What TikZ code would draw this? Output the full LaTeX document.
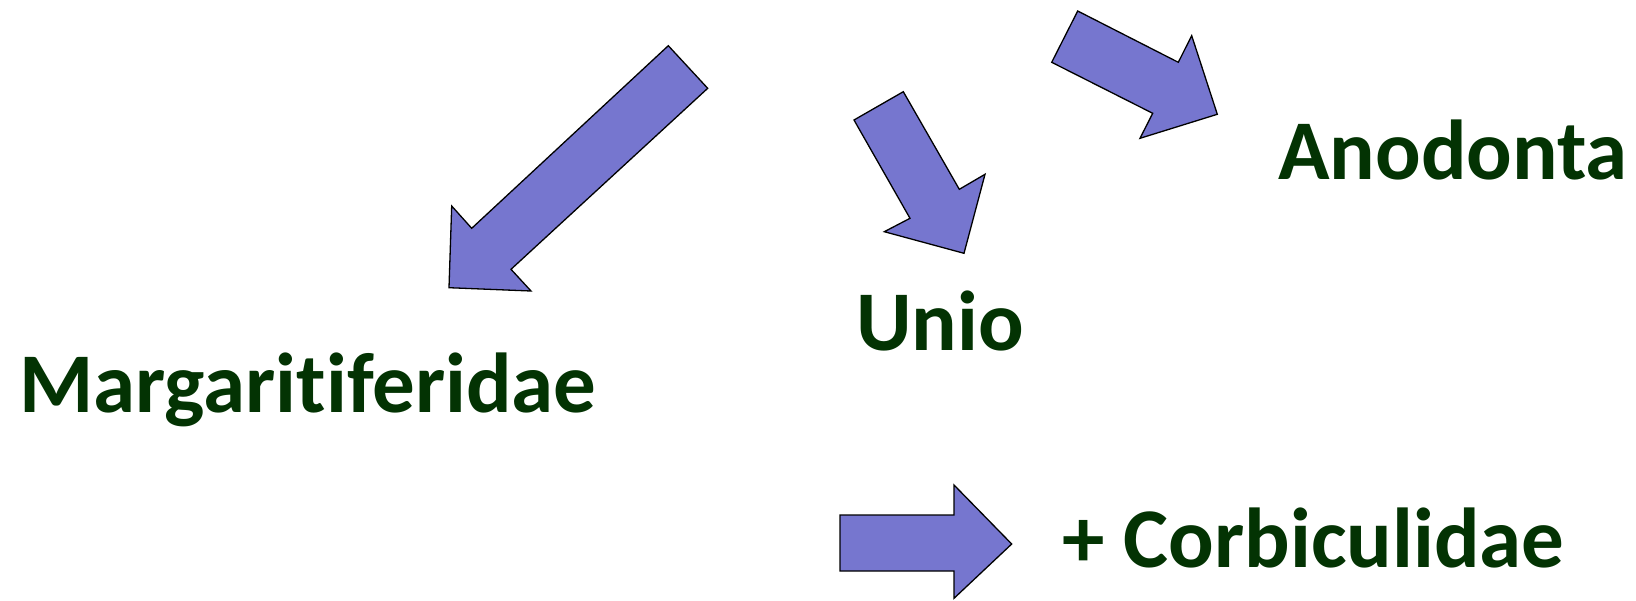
\documentclass[tikz,border=0pt]{standalone}
\usepackage{fontspec}
\setmainfont{Carlito}[Ligatures=NoCommon]
\definecolor{taxon}{RGB}{3,51,3}
\definecolor{arrowfill}{RGB}{118,118,207}
\begin{document}
\begin{tikzpicture}[x=1pt,y=-1pt,
  blockarrow/.style={fill=arrowfill,draw=black,line width=1.3pt,line join=miter},
  taxonlabel/.style={anchor=base west,inner sep=0pt,text=taxon,font=\fontsize{85}{102}\selectfont\bfseries}]
\useasboundingbox (0,0) rectangle (1636,600);
% block arrows
\draw[blockarrow] (668.3,45.7) -- (707.7,88.3) -- (511,269.3) -- (531,291) -- (449,287.7)
  -- (451.7,206) -- (471.7,228.3) -- cycle;
\draw[blockarrow] (854,120) -- (903.3,91.7) -- (959.3,189.3) -- (985,174.3) -- (964,253.3)
  -- (884.3,231.7) -- (910,218.3) -- cycle;
\draw[blockarrow] (1077.7,11) -- (1178.3,62.3) -- (1191.7,35.7) -- (1217.3,114.3)
  -- (1140,138.3) -- (1152.7,113.3) -- (1051.7,62.3) -- cycle;
\draw[blockarrow] (840,515) -- (954,515) -- (954,485) -- (1011.7,544) -- (954,598.3)
  -- (954,571) -- (840,571) -- cycle;
% taxon names
\node[taxonlabel] (marg) at (19,412) {Margaritiferidae};
\node[taxonlabel] (unio) at (856,350) {Unio};
\node[taxonlabel] (anod) at (1278,179) {Anodonta};
\node[taxonlabel] (corb) at (1062,567) {+ Corbiculidae};
\end{tikzpicture}
\end{document}
